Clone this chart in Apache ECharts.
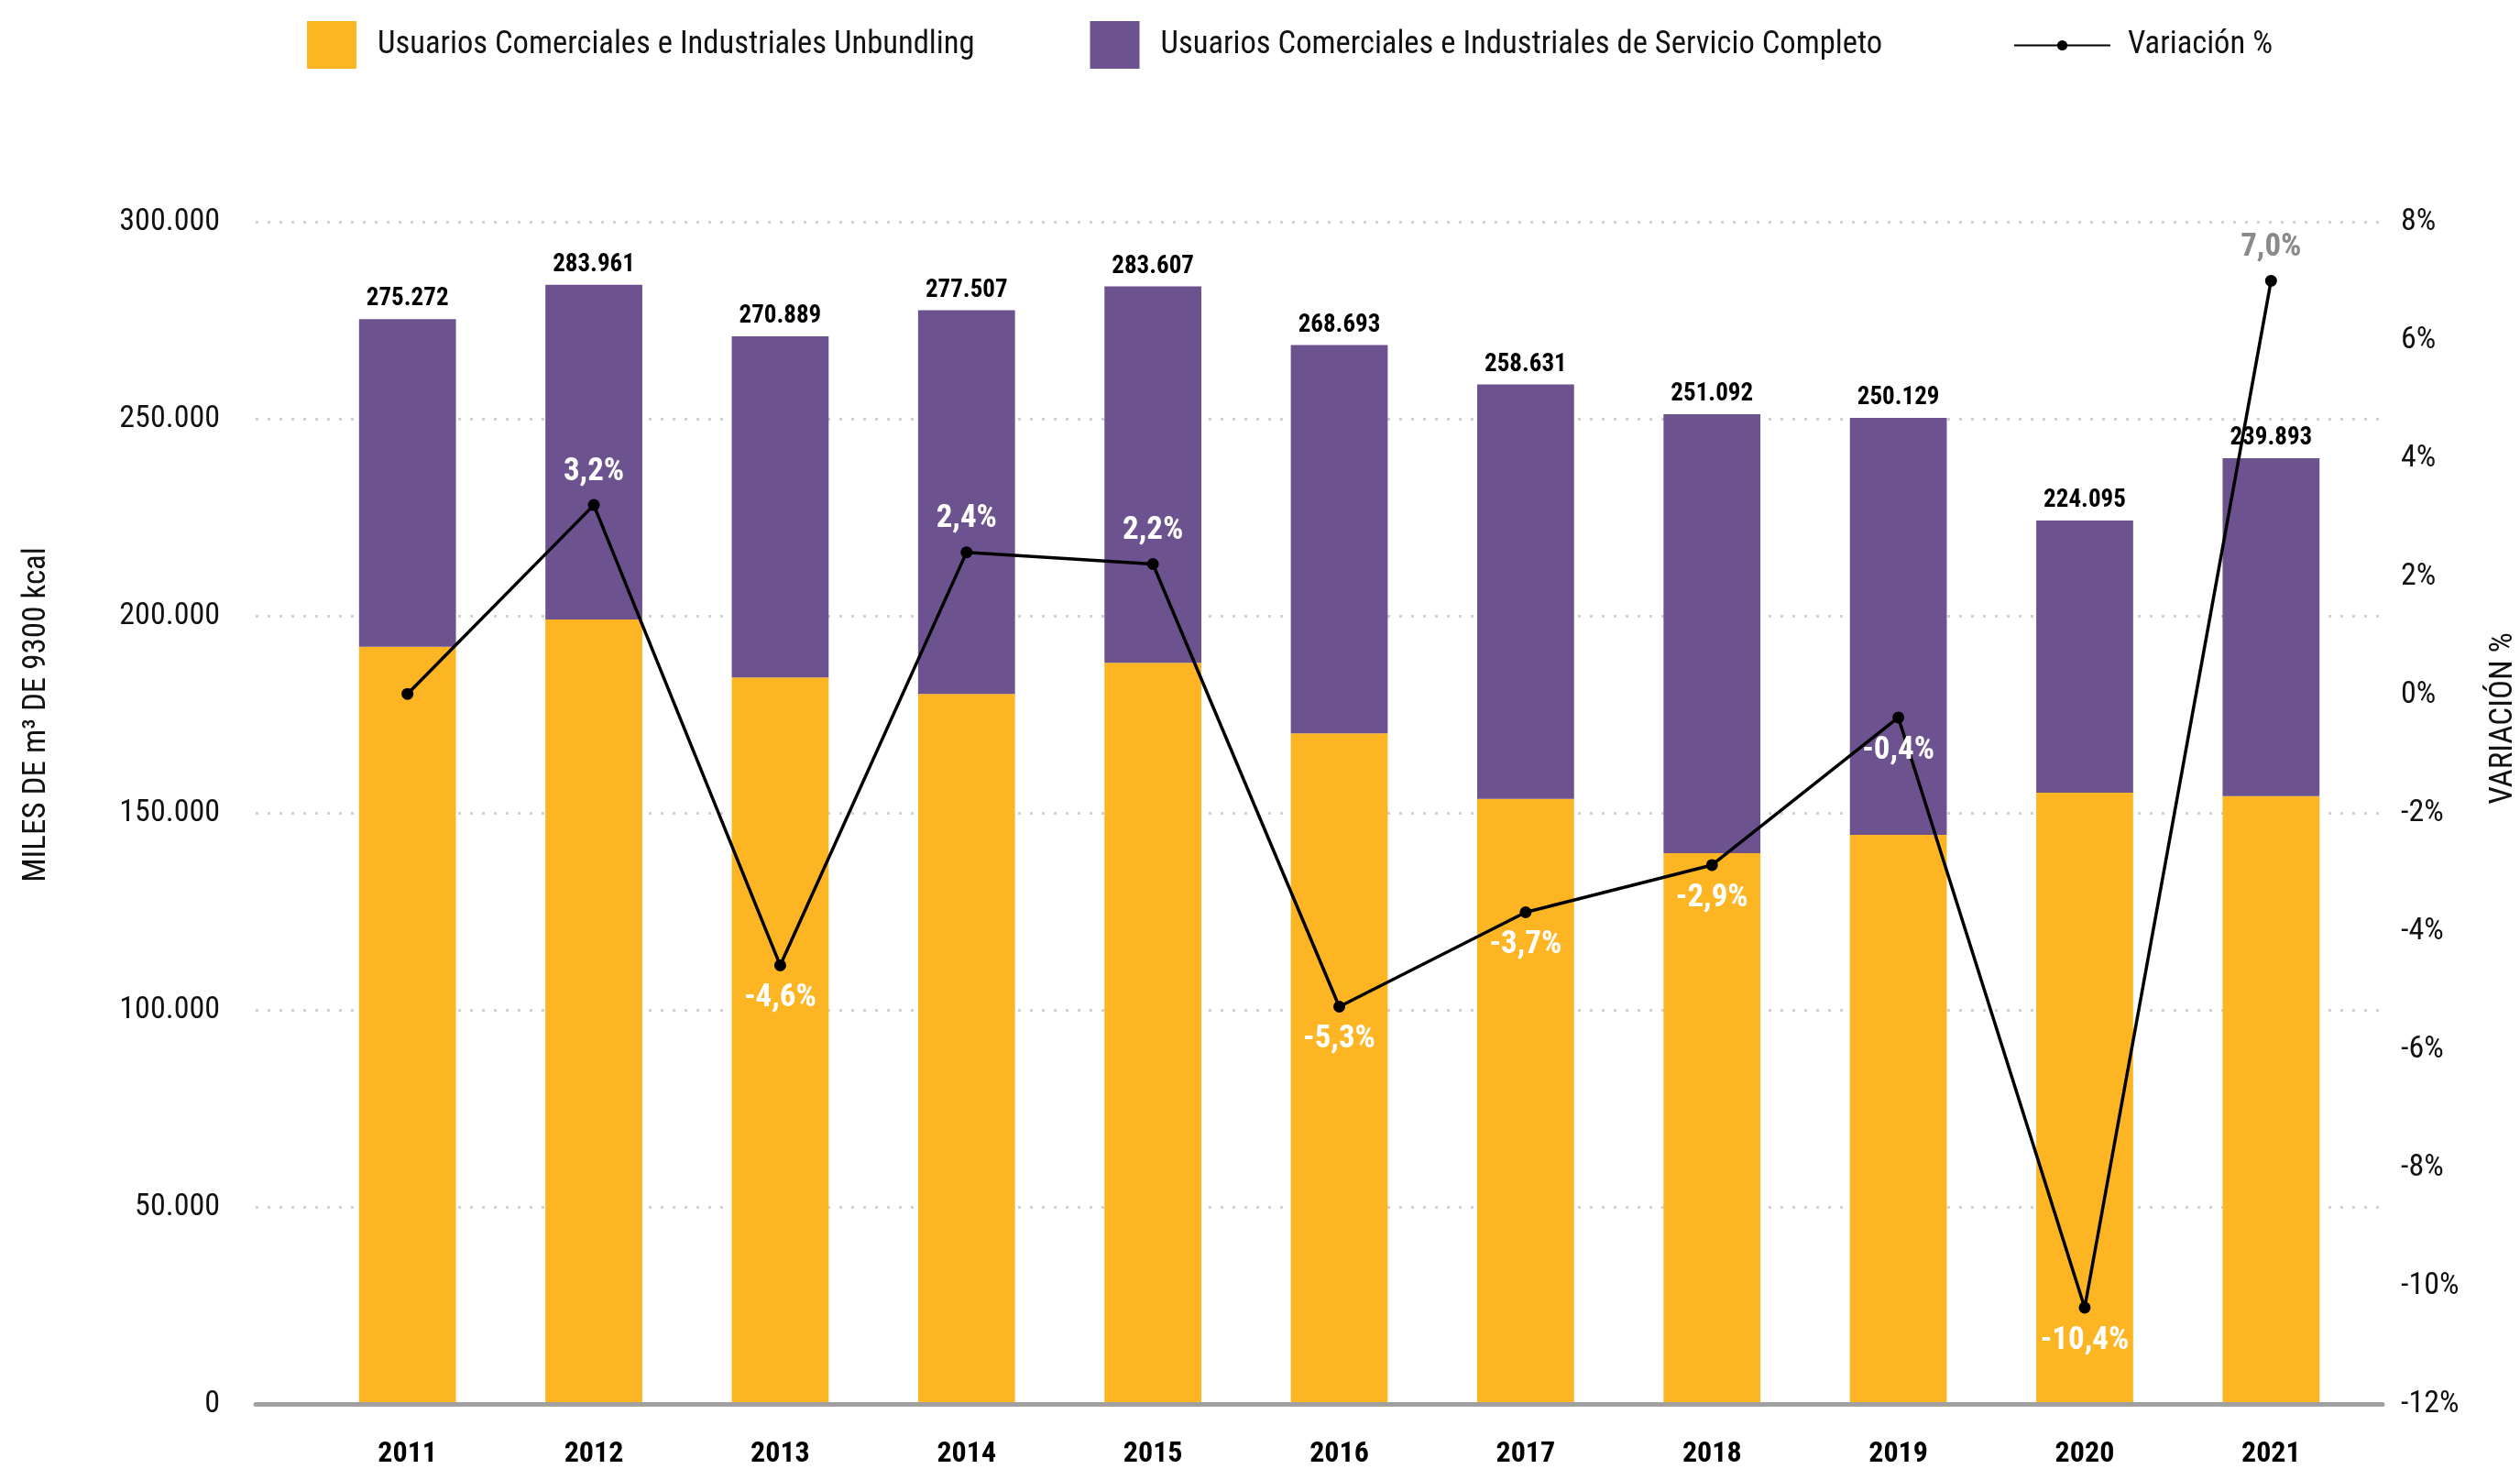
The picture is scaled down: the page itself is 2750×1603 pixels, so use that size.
<!DOCTYPE html>
<html>
<head>
<meta charset="utf-8">
<script src="https://cdn.jsdelivr.net/npm/echarts@6/dist/echarts.min.js"></script>
<style>
  html, body { margin: 0; padding: 0; background: #fff; }
  #chart { width: 2750px; height: 1603px; }
</style>
</head>
<body>
<div id="chart"></div>
<script>
const FONT = '"Roboto Condensed", "Liberation Sans Narrow", "DejaVu Sans Condensed", sans-serif';

const years = ['2011', '2012', '2013', '2014', '2015', '2016', '2017', '2018', '2019', '2020', '2021'];
const totals = [275272, 283961, 270889, 277507, 283607, 268693, 258631, 251092, 250129, 224095, 239893];
const unbundling = [192000, 198900, 184200, 180000, 187900, 170000, 153300, 139500, 144200, 154900, 154000];
const servicioCompleto = [83272, 85061, 86689, 97507, 95707, 98693, 105331, 111592, 105929, 69195, 85893];
const variacion = [0, 3.2, -4.6, 2.4, 2.2, -5.3, -3.7, -2.9, -0.4, -10.4, 7.0];
const variacionPos = ['none', 'top', 'bottom', 'top', 'top', 'bottom', 'bottom', 'bottom', 'bottom', 'bottom', 'top'];
const leftTicks = [0, 50000, 100000, 150000, 200000, 250000, 300000];
const rightTicks = [-12, -10, -8, -6, -4, -2, 0, 2, 4, 6, 8];

const NAME_UNB = 'Usuarios Comerciales e Industriales Unbundling';
const NAME_SC = 'Usuarios Comerciales e Industriales de Servicio Completo';
const NAME_VAR = 'Variación %';

function miles(v) {
  return String(v).replace(/\B(?=(\d{3})+(?!\d))/g, '.');
}

function pct(v) {
  return v.toFixed(1).replace('.', ',') + '%';
}

const chart = echarts.init(document.getElementById('chart'));

const varData = variacion.map((v, i) => {
  const pos = variacionPos[i];
  if (pos === 'none') return { value: v, label: { show: false } };
  return {
    value: v,
    label: {
      show: true,
      position: pos,
      color: i === variacion.length - 1 ? '#8a8a8a' : '#ffffff'
    }
  };
});

// grid 0 = frame (axis line, gridlines, tick labels), grid 1 = the bars and the line
const frameTop = 242;
const frameBottom = 71;

chart.setOption({
  animation: false,
  backgroundColor: '#ffffff',
  textStyle: { fontFamily: FONT },
  legend: [
    {
      data: [NAME_UNB, NAME_SC],
      left: 330,
      top: 18,
      itemWidth: 54,
      itemHeight: 52,
      itemGap: 126,
      icon: 'rect',
      textStyle: { fontFamily: FONT, fontSize: 34.6, color: '#111', padding: [0, 0, 0, 18] }
    },
    {
      data: [NAME_VAR],
      left: 2192,
      top: 27,
      itemWidth: 105,
      itemHeight: 14,
      textStyle: { fontFamily: FONT, fontSize: 34.6, color: '#111', padding: [0, 0, 0, 14] }
    }
  ],
  grid: [
    { left: 279, right: 150, top: frameTop, bottom: frameBottom },
    { left: 343, right: 170, top: frameTop, bottom: frameBottom }
  ],
  xAxis: [
    {
      gridIndex: 0,
      type: 'value',
      min: 0,
      max: 1,
      axisLine: { show: true, lineStyle: { color: '#a0a0a0', width: 5 } },
      axisTick: { show: false },
      axisLabel: { show: false },
      splitLine: { show: false }
    },
    {
      gridIndex: 1,
      type: 'category',
      data: years,
      axisLine: { show: false },
      axisTick: { show: false },
      axisLabel: { fontFamily: FONT, fontSize: 32, fontWeight: 'bold', color: '#000', margin: 41 }
    }
  ],
  yAxis: [
    {
      gridIndex: 0,
      type: 'value',
      min: leftTicks[0],
      max: leftTicks[leftTicks.length - 1],
      interval: 50000,
      axisLine: { show: false },
      axisTick: { show: false },
      axisLabel: { fontFamily: FONT, fontSize: 34, color: '#111', margin: 39, formatter: miles },
      splitLine: { lineStyle: { color: '#d2d2d2', width: 3, type: [3, 10] } }
    },
    {
      gridIndex: 0,
      type: 'value',
      position: 'right',
      min: rightTicks[0],
      max: rightTicks[rightTicks.length - 1],
      interval: 2,
      axisLine: { show: false },
      axisTick: { show: false },
      axisLabel: { fontFamily: FONT, fontSize: 34, color: '#111', margin: 20, formatter: '{value}%' },
      splitLine: { show: false }
    },
    {
      gridIndex: 1,
      type: 'value',
      min: leftTicks[0],
      max: leftTicks[leftTicks.length - 1],
      interval: 50000,
      show: false
    },
    {
      gridIndex: 1,
      type: 'value',
      position: 'right',
      min: rightTicks[0],
      max: rightTicks[rightTicks.length - 1],
      interval: 2,
      show: false
    }
  ],
  graphic: [
    {
      type: 'text',
      x: 40,
      y: 780,
      rotation: Math.PI / 2,
      style: {
        text: 'MILES DE m³ DE 9300 kcal',
        font: '35px ' + FONT,
        fill: '#111',
        align: 'center',
        verticalAlign: 'middle'
      }
    },
    {
      type: 'text',
      x: 2732,
      y: 784,
      rotation: Math.PI / 2,
      style: {
        text: 'VARIACIÓN %',
        font: '35px ' + FONT,
        fill: '#111',
        align: 'center',
        verticalAlign: 'middle'
      }
    }
  ],
  series: [
    {
      name: NAME_UNB,
      type: 'bar',
      xAxisIndex: 1,
      yAxisIndex: 2,
      stack: 'total',
      barWidth: '52%',
      itemStyle: { color: '#FDB523' },
      data: unbundling
    },
    {
      name: NAME_SC,
      type: 'bar',
      xAxisIndex: 1,
      yAxisIndex: 2,
      stack: 'total',
      barWidth: '52%',
      itemStyle: { color: '#6C5390' },
      label: {
        show: true,
        position: 'top',
        distance: 8,
        fontFamily: FONT,
        fontSize: 27,
        fontWeight: 'bold',
        color: '#000',
        formatter: (p) => miles(totals[p.dataIndex])
      },
      data: servicioCompleto
    },
    {
      name: NAME_VAR,
      type: 'line',
      xAxisIndex: 1,
      yAxisIndex: 3,
      symbol: 'circle',
      symbolSize: 13,
      itemStyle: { color: '#000' },
      lineStyle: { color: '#000', width: 3.5 },
      label: {
        fontFamily: FONT,
        fontSize: 35,
        fontWeight: 'bold',
        distance: 12,
        formatter: (p) => pct(p.value)
      },
      z: 5,
      data: varData
    }
  ]
});
</script>
</body>
</html>
